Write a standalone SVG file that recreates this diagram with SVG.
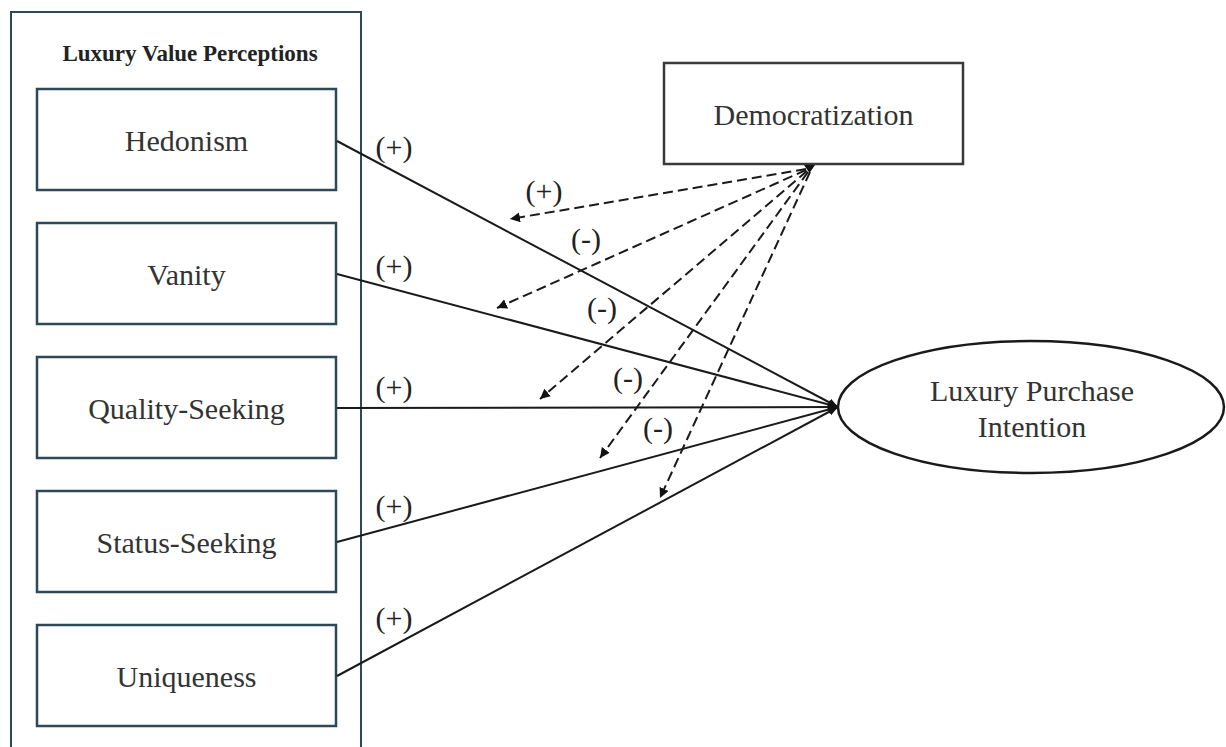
<svg xmlns="http://www.w3.org/2000/svg" width="1226" height="747" viewBox="0 0 1226 747">
<style>
.frame{fill:none;stroke:#2f4858;stroke-width:2}
.box{fill:#fff;stroke:#2f4858;stroke-width:2.5}
.dbox{fill:#fff;stroke:#3a3a3a;stroke-width:2.5}
.ell{fill:#fff;stroke:#1a1a1a;stroke-width:2.5}
.t{font-family:"Liberation Serif","Times New Roman",serif;font-size:30px;fill:#333;text-anchor:middle}
.title{font-family:"Liberation Serif","Times New Roman",serif;font-size:23px;font-weight:bold;fill:#222;text-anchor:middle}
.lbl{font-family:"Liberation Serif","Times New Roman",serif;font-size:30px;fill:#222;text-anchor:middle}
.solid{stroke:#1a1a1a;stroke-width:2;fill:none;marker-end:url(#ah)}
.dash{stroke:#1a1a1a;stroke-width:2;fill:none;stroke-dasharray:10 5;marker-end:url(#dh)}
</style>
<defs>
<marker id="ah" viewBox="0 0 10 10" refX="10" refY="5" markerWidth="5" markerHeight="5" orient="auto" markerUnits="strokeWidth">
<path d="M0,1 L10,5 L0,9 Z" fill="#111"/>
</marker>
<marker id="dh" viewBox="0 0 10 10" refX="10" refY="5" markerWidth="5" markerHeight="5" orient="auto" markerUnits="strokeWidth">
<path d="M0,0 L10,5 L0,10 Z" fill="#111"/>
</marker>
</defs>
<rect width="1226" height="747" fill="#fff"/>
<g id="luxury-value-perceptions">
<rect class="frame" x="11" y="12" width="350" height="760"/>
<text class="title" x="190" y="61">Luxury Value Perceptions</text>
</g>
<g id="hedonism">
<rect class="box" x="37" y="89" width="299" height="101"/>
<text class="t" x="186.5" y="151">Hedonism</text>
</g>
<g id="vanity">
<rect class="box" x="37" y="223" width="299" height="101"/>
<text class="t" x="186.5" y="285">Vanity</text>
</g>
<g id="quality-seeking">
<rect class="box" x="37" y="357" width="299" height="101"/>
<text class="t" x="186.5" y="419">Quality-Seeking</text>
</g>
<g id="status-seeking">
<rect class="box" x="37" y="491" width="299" height="101"/>
<text class="t" x="186.5" y="553">Status-Seeking</text>
</g>
<g id="uniqueness">
<rect class="box" x="37" y="625" width="299" height="101"/>
<text class="t" x="186.5" y="687">Uniqueness</text>
</g>
<g id="democratization">
<rect class="dbox" x="664" y="63" width="299" height="101"/>
<text class="t" x="813.5" y="125">Democratization</text>
</g>
<g id="luxury-purchase-intention">
<ellipse class="ell" cx="1031" cy="407" rx="193" ry="66"/>
<text class="t" x="1032" y="401">Luxury Purchase</text>
<text class="t" x="1032" y="437">Intention</text>
</g>
<g id="connectors">
<line class="solid" x1="337" y1="141" x2="838" y2="407"/>
<line class="solid" x1="337" y1="274" x2="838" y2="407"/>
<line class="solid" x1="337" y1="408" x2="838" y2="407"/>
<line class="solid" x1="337" y1="542" x2="838" y2="407"/>
<line class="solid" x1="337" y1="676" x2="838" y2="407"/>
<line class="dash" x1="806" y1="169" x2="510" y2="219"/>
<line class="dash" x1="806" y1="170" x2="497" y2="308"/>
<line class="dash" x1="807" y1="171" x2="540" y2="399"/>
<line class="dash" x1="808" y1="172" x2="600" y2="458"/>
<line class="dash" x1="810" y1="172" x2="660" y2="498"/>
<polygon points="804,165 815,165 809.5,173" fill="#111"/>
<text class="lbl" x="394" y="157">(+)</text>
<text class="lbl" x="394" y="276">(+)</text>
<text class="lbl" x="394" y="397">(+)</text>
<text class="lbl" x="394" y="516">(+)</text>
<text class="lbl" x="394" y="628">(+)</text>
<text class="lbl" x="544" y="201">(+)</text>
<text class="lbl" x="586" y="249">(-)</text>
<text class="lbl" x="602" y="318">(-)</text>
<text class="lbl" x="628" y="388">(-)</text>
<text class="lbl" x="658" y="438">(-)</text>
</g>
</svg>
